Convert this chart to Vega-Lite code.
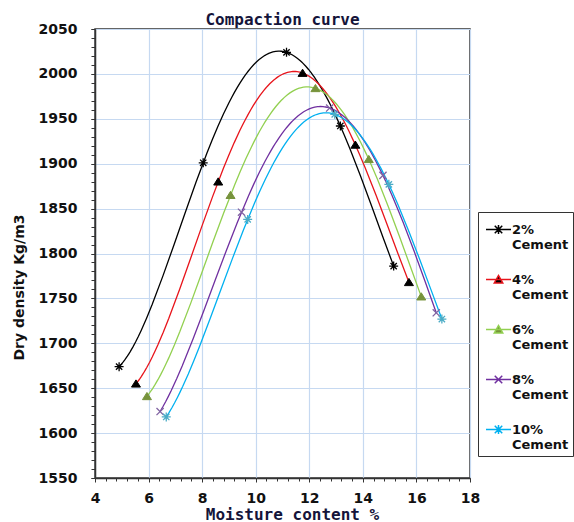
{
  "$schema": "https://vega.github.io/schema/vega-lite/v6.json",
  "width": 375,
  "height": 449,
  "autosize": {"type": "none"},
  "padding": {"left": 95, "top": 29, "right": 104, "bottom": 44},
  "background": "white",
  "title": {"text": "Compaction curve", "font": "DejaVu Sans Mono", "fontSize": 16, "fontWeight": "bold", "color": "#14143a", "anchor": "middle", "offset": -6},
  "config": {"view": {"stroke": "#333333", "strokeWidth": 1.5}},
  "data": {"values": [
    {"s": "2%", "m": 4.9, "d": 1674}, {"s": "2%", "m": 8.04, "d": 1901}, {"s": "2%", "m": 11.15, "d": 2024}, {"s": "2%", "m": 13.16, "d": 1942}, {"s": "2%", "m": 15.15, "d": 1786},
    {"s": "4%", "m": 5.53, "d": 1655}, {"s": "4%", "m": 8.6, "d": 1880}, {"s": "4%", "m": 11.75, "d": 2001}, {"s": "4%", "m": 13.72, "d": 1921}, {"s": "4%", "m": 15.72, "d": 1768},
    {"s": "6%", "m": 5.94, "d": 1641}, {"s": "6%", "m": 9.06, "d": 1865}, {"s": "6%", "m": 12.23, "d": 1984}, {"s": "6%", "m": 14.22, "d": 1905}, {"s": "6%", "m": 16.18, "d": 1752},
    {"s": "8%", "m": 6.43, "d": 1624}, {"s": "8%", "m": 9.47, "d": 1846}, {"s": "8%", "m": 12.76, "d": 1962}, {"s": "8%", "m": 14.75, "d": 1887}, {"s": "8%", "m": 16.74, "d": 1734},
    {"s": "10%", "m": 6.66, "d": 1618}, {"s": "10%", "m": 9.7, "d": 1838}, {"s": "10%", "m": 12.95, "d": 1955}, {"s": "10%", "m": 14.97, "d": 1877}, {"s": "10%", "m": 16.95, "d": 1727}
  ]},
  "layer": [
    {
      "transform": [{"regression": "d", "on": "m", "method": "poly", "order": 4, "groupby": ["s"]}],
      "mark": {"type": "line", "strokeWidth": 1.3},
      "encoding": {
        "x": {"field": "m", "type": "quantitative", "scale": {"domain": [4, 18], "nice": false, "zero": false},
          "axis": {"orient": "bottom", "values": [4, 6, 8, 10, 12, 14, 16, 18], "grid": true, "gridColor": "#c6d9f1", "gridWidth": 1.2, "domainColor": "#333333", "domainWidth": 1.5, "tickColor": "#333333", "tickSize": 4, "labelFont": "DejaVu Sans", "labelFontWeight": "bold", "labelFontSize": 14, "labelColor": "#111111", "labelPadding": 9, "labelFlush": false, "labelOverlap": false, "format": "d", "title": "Moisture content %", "titleFont": "DejaVu Sans Mono", "titleFontSize": 16, "titleFontWeight": "bold", "titleColor": "#14143a", "titleX": 197, "titleY": 36, "titleBaseline": "middle", "titleAlign": "center"}},
        "y": {"field": "d", "type": "quantitative", "scale": {"domain": [1550, 2050], "nice": false, "zero": false},
          "axis": {"orient": "left", "values": [1550, 1600, 1650, 1700, 1750, 1800, 1850, 1900, 1950, 2000, 2050], "grid": true, "gridColor": "#c6d9f1", "gridWidth": 1.2, "domainColor": "#333333", "domainWidth": 1.5, "tickColor": "#333333", "tickSize": 4, "labelFont": "DejaVu Sans", "labelFontWeight": "bold", "labelFontSize": 14, "labelColor": "#111111", "labelPadding": 14, "labelFlush": false, "labelOverlap": false, "format": "d", "title": "Dry density Kg/m3", "titleFont": "DejaVu Sans", "titleFontSize": 14, "titleFontWeight": "bold", "titleColor": "#111111", "titleAngle": -90, "titleX": -76, "titleY": 258, "titleBaseline": "middle", "titleAlign": "center"}},
        "color": {"field": "s", "type": "nominal",
          "scale": {"domain": ["2%", "4%", "6%", "8%", "10%"], "range": ["#000000", "#e8141b", "#92d050", "#7030a0", "#00b0f0"]},
          "legend": {"orient": "none", "legendX": 383, "legendY": 183, "direction": "vertical", "title": null, "padding": 4, "strokeColor": "#333333", "fillColor": "white", "symbolSize": 625, "symbolStrokeWidth": 1.5, "symbolOffset": 3, "labelFont": "DejaVu Sans", "labelFontSize": 13, "labelFontWeight": "bold", "labelColor": "#111111", "labelOffset": 0, "labelBaseline": "middle", "labelLimit": 200, "labelExpr": "[datum.label, 'Cement']", "rowPadding": 14,
            "symbolType": {"expr": "(datum.value === '4%' || datum.value === '6%') ? 'M-1,0L1,0M-0.34,0.28L0,-0.32L0.34,0.28Z' : (datum.value === '8%' ? 'M-1,0L1,0M-0.3,-0.3L0.3,0.3M-0.3,0.3L0.3,-0.3' : 'M-1,0L1,0M-0.3,-0.3L0.3,0.3M-0.3,0.3L0.3,-0.3M0,-0.36L0,0.36')"},
            "symbolFillColor": {"expr": "datum.value === '4%' ? '#000000' : (datum.value === '6%' ? '#77933c' : 'transparent')"}
          }}
      }
    },
    {
      "transform": [{"filter": "datum.s === '2%'"}],
      "mark": {"type": "point", "size": 81, "strokeWidth": 1.3, "opacity": 1, "filled": false, "shape": "M-1,0L1,0M0,-1L0,1M-0.7,-0.7L0.7,0.7M-0.7,0.7L0.7,-0.7", "stroke": "#000000"},
      "encoding": {
        "x": {"field": "m", "type": "quantitative",
          "axis": {"orient": "bottom", "values": [4, 4.4, 4.8, 5.2, 5.6, 6, 6.4, 6.8, 7.2, 7.6, 8, 8.4, 8.8, 9.2, 9.6, 10, 10.4, 10.8, 11.2, 11.6, 12, 12.4, 12.8, 13.2, 13.6, 14, 14.4, 14.8, 15.2, 15.6, 16, 16.4, 16.8, 17.2, 17.6, 18], "labels": false, "grid": false, "domain": false, "ticks": true, "tickSize": 3, "tickColor": "#333333", "title": null}},
        "y": {"field": "d", "type": "quantitative",
          "axis": {"orient": "left", "values": [1550, 1560, 1570, 1580, 1590, 1600, 1610, 1620, 1630, 1640, 1650, 1660, 1670, 1680, 1690, 1700, 1710, 1720, 1730, 1740, 1750, 1760, 1770, 1780, 1790, 1800, 1810, 1820, 1830, 1840, 1850, 1860, 1870, 1880, 1890, 1900, 1910, 1920, 1930, 1940, 1950, 1960, 1970, 1980, 1990, 2000, 2010, 2020, 2030, 2040, 2050], "labels": false, "grid": false, "domain": false, "ticks": true, "tickSize": 4, "tickColor": "#333333", "title": null}}
      }
    },
    {
      "transform": [{"filter": "datum.s === '4%'"}],
      "mark": {"type": "point", "size": 81, "strokeWidth": 1, "opacity": 1, "filled": true, "shape": "M-1,0.75L0,-0.85L1,0.75Z", "fill": "#000000", "stroke": "#000000"},
      "encoding": {"x": {"field": "m", "type": "quantitative", "axis": null}, "y": {"field": "d", "type": "quantitative", "axis": null}}
    },
    {
      "transform": [{"filter": "datum.s === '6%'"}],
      "mark": {"type": "point", "size": 81, "strokeWidth": 1, "opacity": 1, "filled": true, "shape": "M-1,0.75L0,-0.85L1,0.75Z", "fill": "#77933c", "stroke": "#77933c"},
      "encoding": {"x": {"field": "m", "type": "quantitative", "axis": null}, "y": {"field": "d", "type": "quantitative", "axis": null}}
    },
    {
      "transform": [{"filter": "datum.s === '8%'"}],
      "mark": {"type": "point", "size": 81, "strokeWidth": 1.3, "opacity": 1, "filled": false, "shape": "M-0.8,-0.8L0.8,0.8M-0.8,0.8L0.8,-0.8", "stroke": "#8064a2"},
      "encoding": {"x": {"field": "m", "type": "quantitative", "axis": null}, "y": {"field": "d", "type": "quantitative", "axis": null}}
    },
    {
      "transform": [{"filter": "datum.s === '10%'"}],
      "mark": {"type": "point", "size": 81, "strokeWidth": 1.3, "opacity": 1, "filled": false, "shape": "M-1,0L1,0M0,-1L0,1M-0.7,-0.7L0.7,0.7M-0.7,0.7L0.7,-0.7", "stroke": "#4bacc6"},
      "encoding": {"x": {"field": "m", "type": "quantitative", "axis": null}, "y": {"field": "d", "type": "quantitative", "axis": null}}
    }
  ],
  "resolve": {"axis": {"x": "independent", "y": "independent"}}
}
